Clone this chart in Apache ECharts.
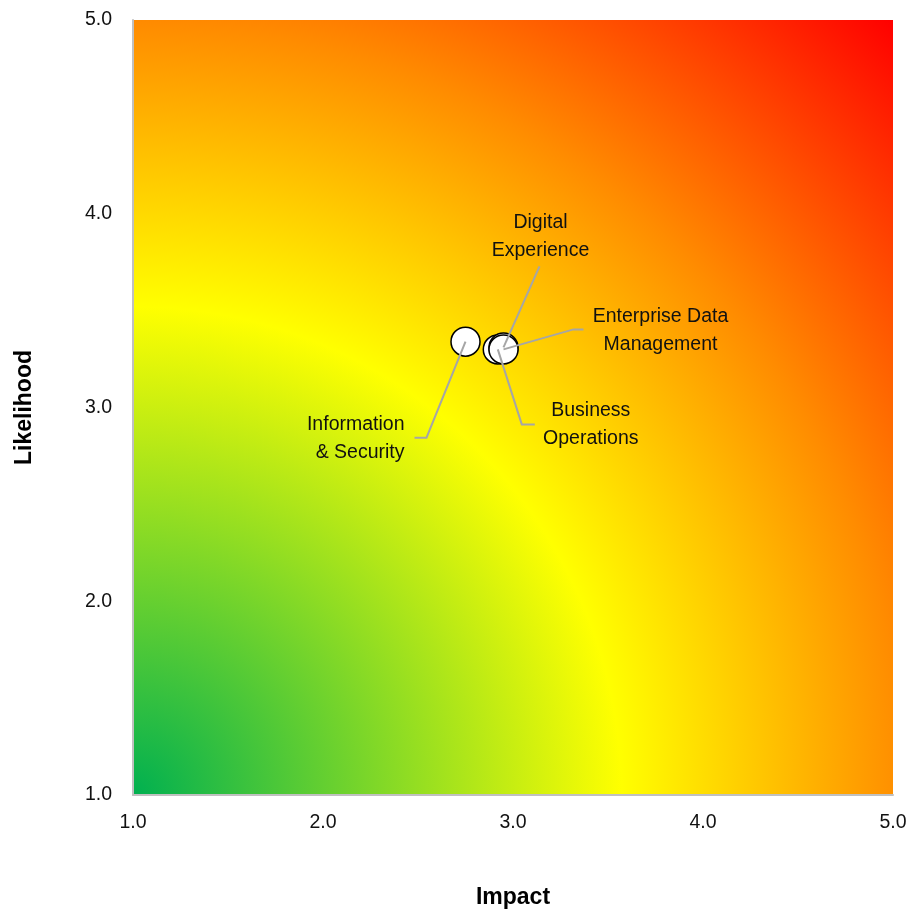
<!DOCTYPE html>
<html>
<head>
<meta charset="utf-8">
<script src="https://cdn.jsdelivr.net/npm/echarts@6/dist/echarts.min.js"></script>
<style>
html,body{margin:0;padding:0;background:#fff;}
#chart{width:909px;height:916px;}
</style>
</head>
<body>
<div id="chart"></div>
<script>
// ---- data ----
const names = ['Information\n& Security', 'Business\nOperations', 'Digital\nExperience', 'Enterprise Data\nManagement'];
const impact = [2.75, 2.92, 2.95, 2.95];
const likelihood = [3.34, 3.30, 3.31, 3.30];
const tickValues = [1.0, 2.0, 3.0, 4.0, 5.0];

// ---- annotation layout (pixels relative to point) ----
const labelOffsets = [[-61, 97], [93, 75], [37, -111], [157, -19]];
const labelAligns = ['right', 'center', 'center', 'center'];
const leaderPaths = [
  [[0, 0], [-39, 96], [-51, 96]],
  [[0, 0], [24, 75], [37, 75]],
  [[0, 0], [36, -81]],
  [[0, 0], [70, -20], [80, -20]]
];

const FONT = 'Liberation Sans, Arial, sans-serif';
const chart = echarts.init(document.getElementById('chart'), null, {renderer: 'canvas'});

const scatterData = names.map((n, i) => ({
  name: n,
  value: [impact[i], likelihood[i]],
  label: {
    show: true,
    position: 'inside',
    offset: labelOffsets[i],
    align: labelAligns[i],
    verticalAlign: 'middle',
    formatter: '{b}',
    color: '#111',
    fontFamily: FONT,
    fontSize: 19.5,
    lineHeight: 27.5
  }
}));

const axisCommon = {
  type: 'value', min: 1, max: 5, interval: 1,
  splitLine: {show: false},
  axisTick: {show: false},
  axisLine: {show: true, lineStyle: {color: '#c0c0c0', width: 2}},
  axisLabel: {
    color: '#111', fontFamily: FONT, fontSize: 19.5,
    formatter: v => tickValues.indexOf(v) >= 0 ? v.toFixed(1) : ''
  },
  nameLocation: 'middle',
  nameTextStyle: {color: '#000', fontFamily: FONT, fontSize: 23, fontWeight: 'bold'}
};

chart.setOption({
  animation: false,
  backgroundColor: '#fff',
  grid: {
    left: 133, top: 20, right: 16, bottom: 121,
    containLabel: false,
    outerBoundsMode: 'none',
    show: true, borderWidth: 0,
    backgroundColor: {
      type: 'radial', x: 0, y: 1, r: 1.428,
      colorStops: [
        {offset: 0, color: '#00b050'},
        {offset: 0.45, color: '#ffff00'},
        {offset: 0.71, color: '#ff8c00'},
        {offset: 1, color: '#ff0000'}
      ]
    }
  },
  xAxis: Object.assign({}, axisCommon, {
    name: 'Impact', nameGap: 91,
    axisLabel: Object.assign({}, axisCommon.axisLabel, {margin: 18})
  }),
  yAxis: Object.assign({}, axisCommon, {
    name: 'Likelihood', nameGap: 97,
    axisLabel: Object.assign({}, axisCommon.axisLabel, {margin: 21})
  }),
  series: [
    {
      type: 'scatter',
      symbol: 'circle',
      symbolSize: 29,
      itemStyle: {color: '#ffffff', borderColor: '#000', borderWidth: 1.5, opacity: 1},
      data: scatterData,
      z: 2
    },
    {
      type: 'custom',
      coordinateSystem: 'cartesian2d',
      silent: true,
      z: 3,
      data: names.map((n, i) => [impact[i], likelihood[i]]),
      renderItem: function (params, api) {
        const p = api.coord([api.value(0), api.value(1)]);
        const path = leaderPaths[params.dataIndex].map(o => [p[0] + o[0], p[1] + o[1]]);
        return {
          type: 'polyline',
          shape: {points: path},
          style: {stroke: '#a6a6a6', lineWidth: 2, fill: null}
        };
      }
    }
  ]
});
</script>
</body>
</html>
